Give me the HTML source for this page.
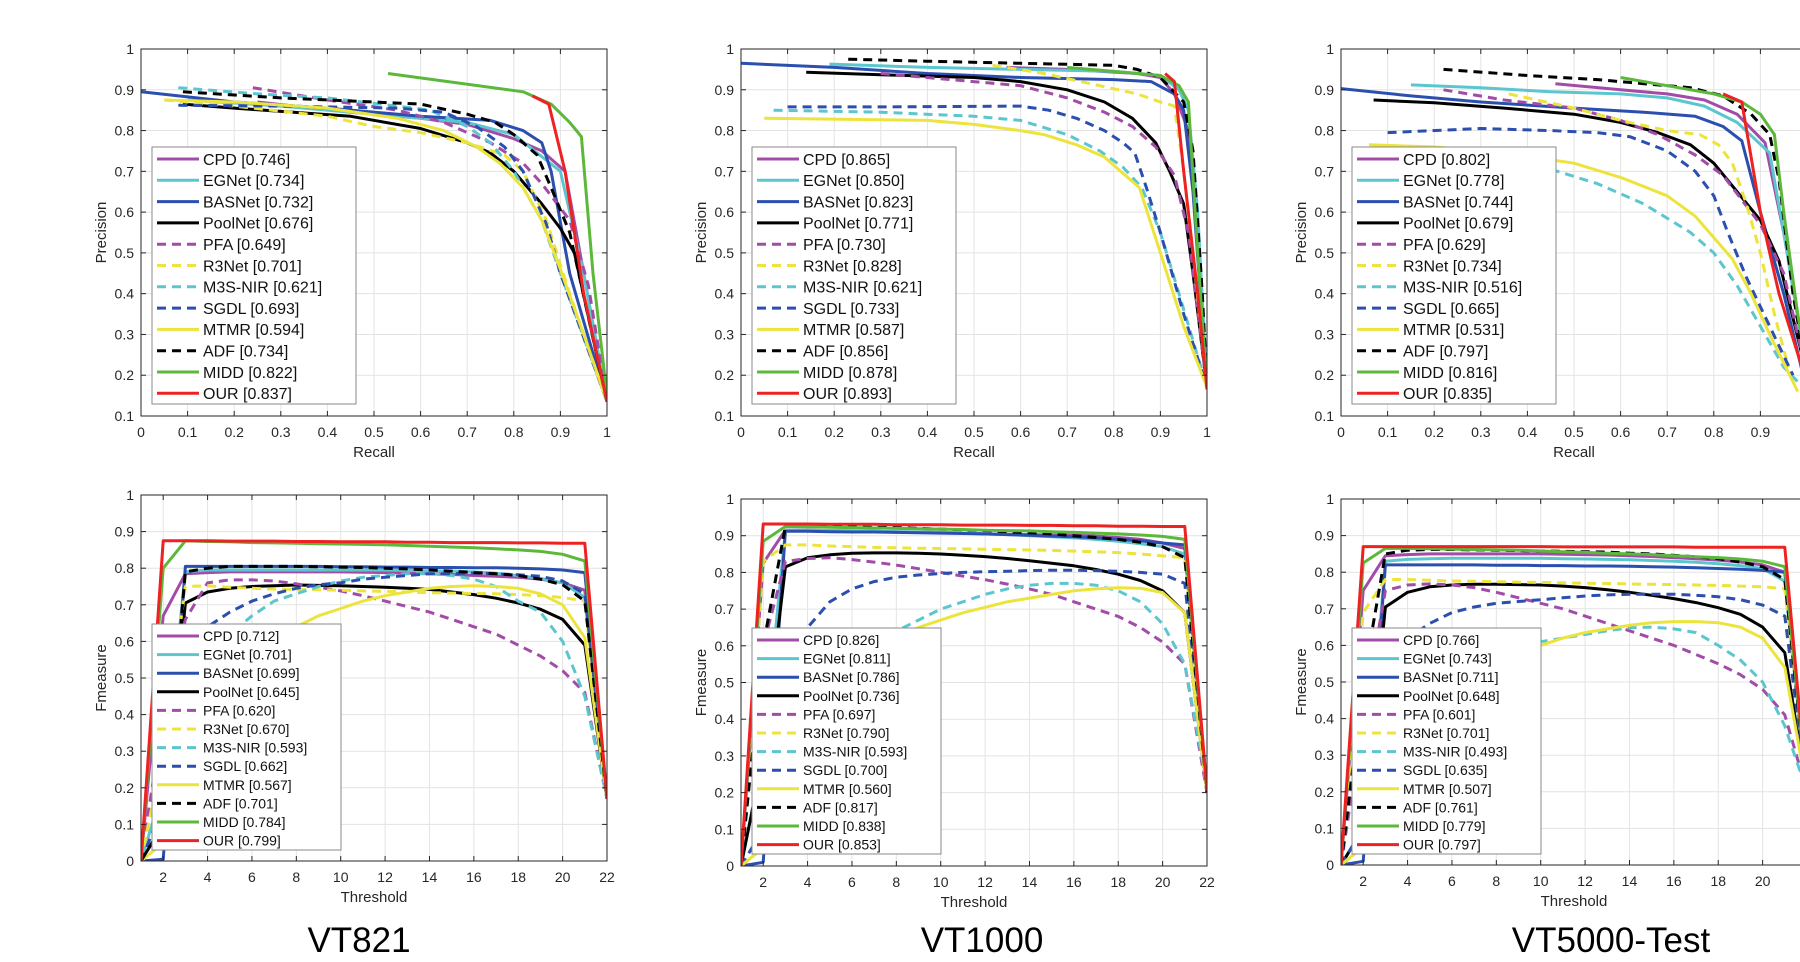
<!DOCTYPE html>
<html><head><meta charset="utf-8"><style>
html,body{margin:0;padding:0;background:#fff;width:1800px;height:962px;overflow:hidden}
svg{display:block}
text{font-family:"Liberation Sans",Arial,sans-serif}
</style></head><body>
<svg id="fig" width="1800" height="962" viewBox="0 0 1800 962" xmlns="http://www.w3.org/2000/svg"></svg>
<script>
const methods=["CPD","EGNet","BASNet","PoolNet","PFA","R3Net","M3S-NIR","SGDL","MTMR","ADF","MIDD","OUR"];
const colors=["#a24ca8","#5cc6cf","#2b4fae","#000000","#a24ca8","#ece43c","#5cc6cf","#2b4fae","#ece43c","#000000","#5cb83a","#ee2222"];
const dashed=[false,false,false,false,true,true,true,true,false,true,false,false];

const prScores821=["0.746","0.734","0.732","0.676","0.649","0.701","0.621","0.693","0.594","0.734","0.822","0.837"];
const prScores1000=["0.865","0.850","0.823","0.771","0.730","0.828","0.621","0.733","0.587","0.856","0.878","0.893"];
const prScores5000=["0.802","0.778","0.744","0.679","0.629","0.734","0.516","0.665","0.531","0.797","0.816","0.835"];
const fScores821=["0.712","0.701","0.699","0.645","0.620","0.670","0.593","0.662","0.567","0.701","0.784","0.799"];
const fScores1000=["0.826","0.811","0.786","0.736","0.697","0.790","0.593","0.700","0.560","0.817","0.838","0.853"];
const fScores5000=["0.766","0.743","0.711","0.648","0.601","0.701","0.493","0.635","0.507","0.761","0.779","0.797"];

const pr821Recall=[
[0.25,0.45,0.6,0.7,0.8,0.86,0.91,0.95,1],
[0.1,0.3,0.5,0.7,0.8,0.9,0.95,1],
[0,0.2,0.4,0.6,0.75,0.82,0.86,0.88,0.92,1],
[0.09,0.2,0.45,0.6,0.7,0.75,0.8,0.86,0.9,0.93,1],
[0.24,0.4,0.55,0.65,0.75,0.82,0.86,0.92,0.96,1],
[0.05,0.2,0.4,0.5,0.6,0.7,0.78,0.82,0.87,0.92,1],
[0.08,0.25,0.4,0.55,0.62,0.7,0.75,0.8,0.86,0.9,1],
[0.08,0.3,0.55,0.65,0.72,0.78,0.82,0.87,0.9,1],
[0.05,0.2,0.4,0.55,0.65,0.72,0.77,0.82,0.86,0.9,0.95,1],
[0.09,0.3,0.5,0.6,0.7,0.76,0.8,0.85,0.88,0.92,1],
[0.53,0.82,0.88,0.92,0.945,0.97,1],
[0.84,0.875,0.91,0.95,1]];
const pr821Precision=[
[0.87,0.845,0.83,0.815,0.78,0.75,0.70,0.45,0.135],
[0.875,0.86,0.84,0.82,0.79,0.70,0.45,0.135],
[0.895,0.87,0.855,0.835,0.825,0.80,0.77,0.70,0.45,0.135],
[0.865,0.855,0.835,0.805,0.77,0.745,0.70,0.62,0.56,0.50,0.135],
[0.905,0.875,0.85,0.82,0.77,0.72,0.67,0.58,0.42,0.135],
[0.875,0.86,0.835,0.81,0.795,0.77,0.74,0.70,0.58,0.40,0.135],
[0.905,0.89,0.88,0.86,0.85,0.81,0.77,0.70,0.58,0.45,0.135],
[0.862,0.86,0.855,0.845,0.81,0.76,0.70,0.57,0.45,0.135],
[0.875,0.87,0.855,0.83,0.80,0.76,0.72,0.66,0.58,0.46,0.30,0.135],
[0.895,0.88,0.87,0.865,0.84,0.82,0.79,0.74,0.66,0.55,0.135],
[0.94,0.895,0.865,0.82,0.785,0.45,0.15],
[0.885,0.865,0.70,0.40,0.135]];

const pr1000Recall=[
[0.57,0.7,0.85,0.9,0.93,0.96,0.98,1],
[0.19,0.4,0.6,0.8,0.9,0.94,0.96,0.98,1],
[0,0.2,0.4,0.6,0.8,0.88,0.93,0.95,0.97,1],
[0.14,0.3,0.5,0.6,0.7,0.78,0.84,0.89,0.92,0.95,0.97,1],
[0.3,0.45,0.6,0.7,0.78,0.84,0.89,0.93,0.96,1],
[0.54,0.65,0.75,0.85,0.9,0.93,0.95,0.97,1],
[0.07,0.3,0.5,0.6,0.7,0.77,0.82,0.86,0.9,0.94,1],
[0.1,0.3,0.6,0.66,0.72,0.78,0.82,0.845,0.87,0.9,0.95,1],
[0.05,0.4,0.5,0.6,0.65,0.72,0.78,0.855,0.9,0.95,1],
[0.23,0.4,0.6,0.8,0.85,0.9,0.95,0.97,0.99,1],
[0.7,0.8,0.9,0.94,0.96,0.98,1],
[0.91,0.93,0.95,0.98,1]];
const pr1000Precision=[
[0.955,0.95,0.94,0.93,0.89,0.80,0.55,0.17],
[0.963,0.955,0.95,0.945,0.935,0.90,0.85,0.6,0.17],
[0.965,0.955,0.94,0.93,0.925,0.92,0.89,0.85,0.65,0.17],
[0.943,0.937,0.93,0.92,0.9,0.87,0.83,0.77,0.70,0.62,0.45,0.17],
[0.94,0.925,0.91,0.88,0.845,0.81,0.76,0.69,0.55,0.17],
[0.96,0.94,0.915,0.89,0.87,0.86,0.70,0.50,0.17],
[0.85,0.845,0.835,0.825,0.79,0.75,0.71,0.66,0.55,0.40,0.17],
[0.858,0.858,0.86,0.85,0.83,0.80,0.77,0.745,0.66,0.55,0.35,0.17],
[0.83,0.825,0.815,0.80,0.79,0.765,0.735,0.66,0.50,0.32,0.17],
[0.975,0.97,0.965,0.96,0.95,0.93,0.87,0.75,0.40,0.17],
[0.955,0.945,0.935,0.91,0.87,0.50,0.17],
[0.94,0.92,0.70,0.40,0.165]];

const pr5000Recall=[
[0.46,0.6,0.7,0.78,0.85,0.91,0.95,0.98,1],
[0.15,0.3,0.45,0.6,0.7,0.78,0.85,0.92,0.95,1],
[0,0.15,0.3,0.5,0.65,0.76,0.82,0.86,0.9,0.95,1],
[0.07,0.2,0.35,0.5,0.6,0.68,0.75,0.8,0.85,0.9,0.94,1],
[0.22,0.35,0.5,0.6,0.68,0.76,0.82,0.86,0.9,0.95,1],
[0.36,0.5,0.6,0.7,0.77,0.81,0.84,0.87,0.9,0.93,0.96],
[0.1,0.3,0.45,0.55,0.65,0.75,0.8,0.85,0.9,0.95,1],
[0.1,0.3,0.45,0.55,0.62,0.7,0.76,0.8,0.83,0.87,0.92,0.97],
[0.06,0.2,0.35,0.5,0.6,0.7,0.76,0.84,0.88,0.92,0.98],
[0.22,0.4,0.55,0.65,0.75,0.82,0.88,0.92,0.94,0.97,1],
[0.6,0.7,0.8,0.86,0.9,0.93,0.95,0.98,1],
[0.82,0.86,0.9,0.94,1]];
const pr5000Precision=[
[0.915,0.90,0.89,0.875,0.84,0.77,0.55,0.35,0.2],
[0.912,0.905,0.895,0.89,0.88,0.86,0.82,0.745,0.55,0.2],
[0.903,0.885,0.87,0.855,0.845,0.835,0.81,0.775,0.6,0.4,0.16],
[0.875,0.868,0.855,0.84,0.82,0.795,0.765,0.72,0.65,0.58,0.48,0.2],
[0.9,0.875,0.855,0.825,0.79,0.74,0.69,0.63,0.57,0.45,0.2],
[0.89,0.855,0.825,0.80,0.79,0.765,0.72,0.62,0.50,0.35,0.22],
[0.76,0.74,0.705,0.67,0.62,0.55,0.50,0.42,0.32,0.22,0.16],
[0.795,0.805,0.80,0.795,0.785,0.75,0.70,0.64,0.55,0.44,0.32,0.2],
[0.765,0.76,0.745,0.72,0.685,0.64,0.59,0.485,0.4,0.3,0.16],
[0.95,0.935,0.925,0.915,0.905,0.885,0.84,0.79,0.68,0.4,0.2],
[0.93,0.91,0.89,0.87,0.84,0.79,0.6,0.35,0.22],
[0.89,0.87,0.6,0.4,0.18]];

const fm821=[
[0,0.67,0.785,0.788,0.79,0.79,0.79,0.79,0.79,0.79,0.789,0.788,0.787,0.785,0.783,0.78,0.778,0.775,0.77,0.76,0.74,0.17],
[0,0.2,0.79,0.795,0.795,0.795,0.795,0.795,0.795,0.795,0.795,0.795,0.794,0.793,0.792,0.79,0.786,0.78,0.772,0.76,0.72,0.17],
[0,0.005,0.805,0.805,0.805,0.805,0.805,0.805,0.805,0.804,0.804,0.803,0.803,0.802,0.802,0.801,0.801,0.80,0.798,0.795,0.788,0.17],
[0,0.1,0.705,0.735,0.745,0.75,0.752,0.754,0.753,0.752,0.75,0.748,0.745,0.742,0.735,0.728,0.718,0.705,0.688,0.66,0.59,0.17],
[0,0.4,0.66,0.76,0.768,0.768,0.765,0.757,0.748,0.738,0.725,0.71,0.695,0.68,0.66,0.64,0.62,0.59,0.56,0.52,0.46,0.17],
[0,0.3,0.75,0.752,0.748,0.745,0.743,0.742,0.741,0.74,0.738,0.737,0.735,0.733,0.732,0.731,0.73,0.728,0.725,0.72,0.71,0.17],
[0,0.1,0.45,0.55,0.62,0.67,0.71,0.73,0.75,0.765,0.775,0.78,0.785,0.785,0.78,0.77,0.75,0.71,0.68,0.6,0.45,0.17],
[0,0.15,0.6,0.64,0.68,0.71,0.73,0.745,0.755,0.76,0.77,0.775,0.78,0.785,0.785,0.787,0.785,0.782,0.778,0.765,0.73,0.17],
[0,0.05,0.35,0.45,0.52,0.57,0.61,0.64,0.67,0.69,0.71,0.725,0.735,0.745,0.75,0.752,0.75,0.745,0.73,0.70,0.61,0.17],
[0,0.1,0.79,0.80,0.805,0.805,0.805,0.805,0.804,0.803,0.802,0.80,0.798,0.795,0.792,0.788,0.785,0.78,0.77,0.755,0.71,0.17],
[0,0.80,0.875,0.873,0.872,0.87,0.869,0.868,0.867,0.866,0.865,0.864,0.862,0.86,0.858,0.856,0.853,0.85,0.846,0.838,0.82,0.17],
[0,0.875,0.875,0.875,0.874,0.874,0.874,0.873,0.873,0.872,0.872,0.872,0.871,0.871,0.87,0.87,0.87,0.869,0.869,0.868,0.868,0.17]];
const fm1000=[
[0,0.825,0.915,0.915,0.914,0.913,0.912,0.911,0.91,0.909,0.907,0.905,0.904,0.903,0.902,0.901,0.899,0.895,0.89,0.88,0.865,0.2],
[0,0.3,0.915,0.915,0.914,0.913,0.912,0.911,0.91,0.909,0.907,0.905,0.903,0.9,0.897,0.894,0.89,0.885,0.878,0.87,0.85,0.2],
[0,0.01,0.912,0.912,0.911,0.91,0.91,0.909,0.908,0.907,0.906,0.905,0.903,0.901,0.899,0.897,0.894,0.89,0.886,0.88,0.875,0.2],
[0,0.3,0.815,0.84,0.848,0.852,0.853,0.853,0.852,0.85,0.847,0.843,0.838,0.832,0.825,0.818,0.808,0.795,0.778,0.75,0.69,0.2],
[0,0.6,0.83,0.838,0.84,0.835,0.828,0.82,0.81,0.8,0.79,0.78,0.768,0.755,0.74,0.72,0.70,0.68,0.65,0.61,0.55,0.2],
[0,0.83,0.875,0.875,0.872,0.87,0.868,0.867,0.866,0.865,0.864,0.863,0.862,0.861,0.86,0.858,0.856,0.854,0.85,0.845,0.84,0.2],
[0,0.05,0.3,0.4,0.5,0.55,0.6,0.64,0.67,0.7,0.72,0.74,0.755,0.765,0.77,0.77,0.765,0.75,0.72,0.66,0.55,0.22],
[0,0.1,0.55,0.65,0.72,0.755,0.775,0.787,0.793,0.797,0.8,0.802,0.803,0.805,0.806,0.806,0.805,0.803,0.8,0.795,0.77,0.2],
[0,0.05,0.3,0.4,0.48,0.54,0.59,0.625,0.65,0.67,0.69,0.705,0.72,0.73,0.74,0.75,0.755,0.758,0.757,0.745,0.69,0.2],
[0,0.6,0.925,0.925,0.925,0.924,0.923,0.922,0.92,0.918,0.916,0.914,0.911,0.908,0.905,0.9,0.895,0.89,0.882,0.87,0.84,0.2],
[0,0.885,0.925,0.924,0.923,0.922,0.921,0.92,0.919,0.918,0.917,0.915,0.914,0.913,0.911,0.909,0.907,0.905,0.902,0.898,0.89,0.205],
[0,0.932,0.932,0.932,0.931,0.931,0.931,0.93,0.93,0.93,0.929,0.929,0.929,0.928,0.928,0.927,0.927,0.926,0.926,0.925,0.925,0.205]];
const fm5000=[
[0,0.75,0.845,0.848,0.85,0.85,0.85,0.85,0.85,0.85,0.849,0.848,0.847,0.845,0.843,0.84,0.837,0.833,0.828,0.82,0.80,0.2],
[0,0.1,0.83,0.835,0.837,0.838,0.838,0.838,0.838,0.838,0.837,0.836,0.835,0.834,0.832,0.83,0.827,0.823,0.818,0.81,0.775,0.2],
[0,0.01,0.82,0.82,0.82,0.82,0.82,0.819,0.819,0.818,0.818,0.817,0.817,0.816,0.815,0.814,0.812,0.81,0.808,0.805,0.80,0.2],
[0,0.1,0.705,0.745,0.76,0.765,0.767,0.767,0.766,0.765,0.762,0.758,0.752,0.745,0.737,0.728,0.717,0.703,0.685,0.65,0.58,0.2],
[0,0.4,0.75,0.765,0.768,0.765,0.758,0.745,0.73,0.715,0.70,0.68,0.66,0.64,0.62,0.60,0.575,0.55,0.52,0.48,0.41,0.2],
[0,0.69,0.78,0.78,0.778,0.776,0.775,0.774,0.773,0.772,0.771,0.77,0.769,0.768,0.767,0.766,0.765,0.764,0.762,0.76,0.755,0.2],
[0,0.05,0.35,0.45,0.5,0.54,0.57,0.59,0.6,0.61,0.62,0.63,0.64,0.648,0.65,0.645,0.635,0.6,0.56,0.5,0.38,0.2],
[0,0.1,0.55,0.62,0.66,0.69,0.705,0.715,0.72,0.725,0.73,0.735,0.738,0.74,0.74,0.74,0.737,0.733,0.725,0.71,0.68,0.2],
[0,0.05,0.3,0.4,0.46,0.51,0.54,0.56,0.58,0.6,0.62,0.635,0.645,0.655,0.662,0.665,0.665,0.662,0.65,0.62,0.54,0.2],
[0,0.5,0.85,0.86,0.862,0.862,0.861,0.86,0.859,0.858,0.857,0.856,0.855,0.852,0.85,0.846,0.842,0.837,0.828,0.815,0.78,0.2],
[0,0.825,0.865,0.865,0.864,0.863,0.862,0.861,0.86,0.858,0.856,0.854,0.852,0.85,0.848,0.845,0.842,0.84,0.836,0.83,0.815,0.2],
[0,0.87,0.87,0.87,0.87,0.87,0.87,0.87,0.87,0.87,0.869,0.869,0.869,0.869,0.869,0.869,0.868,0.868,0.868,0.868,0.868,0.2]];
const thresholds=[1,2,3,4,5,6,7,8,9,10,11,12,13,14,15,16,17,18,19,20,21,22];
const prXTicks=[0,0.1,0.2,0.3,0.4,0.5,0.6,0.7,0.8,0.9,1];
const prYTicks=[0.1,0.2,0.3,0.4,0.5,0.6,0.7,0.8,0.9,1];
const fXTicks=[2,4,6,8,10,12,14,16,18,20,22];
const fYTicks=[0,0.1,0.2,0.3,0.4,0.5,0.6,0.7,0.8,0.9,1];
const titles=["VT821","VT1000","VT5000-Test"];

const NS="http://www.w3.org/2000/svg";
const svg=document.getElementById('fig');
function mk(tag,attrs,parent){const e=document.createElementNS(NS,tag);for(const k in attrs)e.setAttribute(k,attrs[k]);(parent||svg).appendChild(e);return e;}
function fmt(v){return String(v);}

function drawPlot(o){
  const g=mk('g',{});
  
  
  const W=o.x1-o.x0,H=o.y1-o.y0;
  const sx=v=>o.x0+(v-o.xmin)/(o.xmax-o.xmin)*W;
  const sy=v=>o.y1-(v-o.ymin)/(o.ymax-o.ymin)*H;
  const cid='clip'+o.name;
  const cp=mk('clipPath',{id:cid},g);mk('rect',{x:o.x0,y:o.y0,width:W,height:H},cp);
  o.xt.forEach(v=>{const x=sx(v);const l=mk('line',{x1:x,x2:x,y1:o.y0,y2:o.y1,stroke:'#e3e3e3','stroke-width':1},g);});
  o.yt.forEach(v=>{const y=sy(v);const l=mk('line',{x1:o.x0,x2:o.x1,y1:y,y2:y,stroke:'#e3e3e3','stroke-width':1},g);});
  const sg=mk('g',{'clip-path':'url(#'+cid+')'},g);
  for(let i=0;i<methods.length;i++){
    const xs=o.xs[i],ys=o.ys[i];
    let d='';for(let j=0;j<ys.length;j++)d+=(j?'L':'M')+sx(xs[j]).toFixed(1)+' '+sy(ys[j]).toFixed(1);
    const p=mk('path',{d:d,fill:'none',stroke:colors[i],'stroke-width':3,'stroke-linejoin':'round'},sg);
    if(dashed[i])p.setAttribute('stroke-dasharray','9 6');
    
    
  }
  const box=mk('rect',{x:o.x0,y:o.y0,width:W,height:H,fill:'none',stroke:'#262626','stroke-width':1},g);
  
  o.xt.forEach(v=>{const x=sx(v);mk('line',{x1:x,x2:x,y1:o.y1,y2:o.y1-5,stroke:'#262626'},g);mk('line',{x1:x,x2:x,y1:o.y0,y2:o.y0+5,stroke:'#262626'},g);
    const t=mk('text',{x:x,y:o.y1+21,'text-anchor':'middle','font-size':14,fill:'#262626'},g);t.textContent=fmt(v);
    });
  o.yt.forEach(v=>{const y=sy(v);mk('line',{x1:o.x0,x2:o.x0+5,y1:y,y2:y,stroke:'#262626'},g);mk('line',{x1:o.x1,x2:o.x1-5,y1:y,y2:y,stroke:'#262626'},g);
    const t=mk('text',{x:o.x0-7,y:y+5,'text-anchor':'end','font-size':14,fill:'#262626'},g);t.textContent=fmt(v);
    });
  const xl=mk('text',{x:(o.x0+o.x1)/2,y:o.y1+41,'text-anchor':'middle','font-size':15,fill:'#262626'},g);xl.textContent=o.xlabel;
  
  const yx=o.x0-35,yy=(o.y0+o.y1)/2;
  const yl=mk('text',{x:yx,y:yy,'text-anchor':'middle','font-size':15,fill:'#262626',transform:'rotate(-90 '+yx+' '+yy+')'},g);yl.textContent=o.ylabel;
  
  const lg=mk('g',{},g);
  
  mk('rect',{x:o.lx,y:o.ly,width:o.lw,height:o.lh,fill:'#fff',stroke:'#8a8a8a','stroke-width':1},lg);
  for(let i=0;i<methods.length;i++){
    const cy=o.ly+12+i*o.lsp;
    const l=mk('line',{x1:o.lx+5,x2:o.lx+47,y1:cy,y2:cy,stroke:colors[i],'stroke-width':3},lg);
    if(dashed[i])l.setAttribute('stroke-dasharray','9 6');
    const t=mk('text',{x:o.lx+51,y:cy+o.lfs*0.36,'font-size':o.lfs,fill:'#111'},lg);
    t.textContent=methods[i]+' ['+o.scores[i]+']';
    
  }
}
const xsF=methods.map(()=>thresholds);
const prRecalls=[pr821Recall,pr1000Recall,pr5000Recall];
const prPrecisions=[pr821Precision,pr1000Precision,pr5000Precision];
const prScores=[prScores821,prScores1000,prScores5000];
const fms=[fm821,fm1000,fm5000];
const fScores=[fScores821,fScores1000,fScores5000];
const lefts=[141,741,1341];
const titleX=[359,982,1611];
const fTops=[495,499,499],fBots=[861,866,865];
for(let k=0;k<3;k++){
  const x0=lefts[k];
  drawPlot({name:'pr-curve-'+titles[k].toLowerCase(),x0:x0,x1:x0+466,y0:49,y1:416,xmin:0,xmax:1,ymin:0.1,ymax:1,
    xt:prXTicks,yt:prYTicks,xs:prRecalls[k],ys:prPrecisions[k],xlabel:'Recall',ylabel:'Precision',
    lx:x0+11,ly:147,lw:204,lh:257,lsp:21.3,lfs:16,scores:prScores[k]});
  drawPlot({name:'fmeasure-curve-'+titles[k].toLowerCase(),x0:x0,x1:x0+466,y0:fTops[k],y1:fBots[k],xmin:1,xmax:22,ymin:0,ymax:1,
    xt:fXTicks,yt:fYTicks,xs:xsF,ys:fms[k],xlabel:'Threshold',ylabel:'Fmeasure',
    lx:x0+11,ly:fTops[k]+129,lw:189,lh:226,lsp:18.6,lfs:14,scores:fScores[k]});
  const t=mk('text',{x:titleX[k],y:952,'text-anchor':'middle','font-size':35,fill:'#000'});
  t.textContent=titles[k];
  
  
}
</script>
</body></html>
